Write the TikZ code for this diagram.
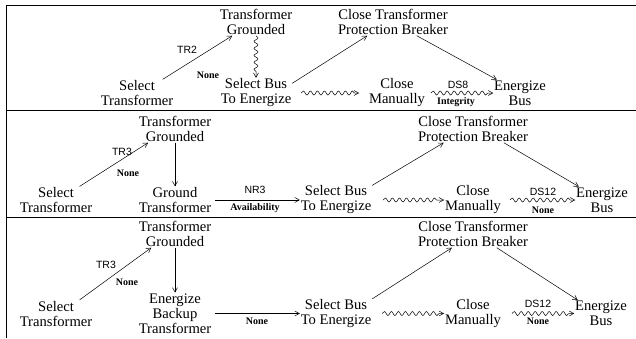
\documentclass[tikz,border=0pt]{standalone}
\usepackage{fontspec}
\setmainfont{Liberation Serif}
\newfontfamily\lblsans{Liberation Sans}
\usetikzlibrary{arrows.meta,decorations.pathmorphing}

\begin{document}
\begin{tikzpicture}[x=1pt, y=-1pt,
  state/.style={align=center, inner sep=0pt, outer sep=1pt, font=\fontsize{14.6}{15}\selectfont},
  tag/.style={inner sep=0pt, font=\lblsans\fontsize{10.5}{12}\selectfont},
  cat/.style={inner sep=0pt, font=\bfseries\fontsize{10}{12}\selectfont},
  trans/.style={-{Straight Barb[length=4.5pt,width=5pt]}, line width=0.5pt},
  wavy/.style={trans, decorate, decoration={snake, amplitude=2pt, segment length=7pt, post length=4pt}}]
\useasboundingbox (0,0) rectangle (636,338);
\draw[line width=1pt] (636,5) -- (6.5,5) -- (6.5,338);
\draw[line width=0.8pt] (6.5,110.5) -- (636,110.5);
\draw[line width=0.8pt] (6.5,217.5) -- (636,217.5);

\node[state] (selT1) at (137,93) {Select\\Transformer};
\node[state] (grd1) at (256,22) {Transformer\\Grounded};
\node[state] (selB1) at (256,93) {Select Bus\\To Energize};
\node[state] (ctpb1) at (393,22) {Close Transformer\\Protection Breaker};
\node[state] (man1) at (397,93) {Close\\Manually};
\node[state] (enb1) at (520,93) {Energize\\Bus};
\node[tag] (tr2) at (187,50) {TR2};
\node[cat] (none1) at (208,75) {None};
\node[tag] (ds8) at (458,85) {DS8};
\node[cat] (integ1) at (456,102) {Integrity};
\draw[trans] (selT1.28) -- (grd1.210);
\draw[wavy] (grd1.south) -- (selB1.north);
\draw[trans] (selB1.15) -- (ctpb1.208);
\draw[trans] (ctpb1.330) -- (enb1.150);
\draw[wavy] ([xshift=9pt]selB1.east) -- ([xshift=-9pt]man1.west);
\draw[wavy] ([xshift=5pt]man1.east) -- (enb1.west);

\node[state] (selT2) at (56,200) {Select\\Transformer};
\node[state] (grd2) at (175,129) {Transformer\\Grounded};
\node[state] (gnd2) at (175,200) {Ground\\Transformer};
\node[state] (selB2) at (336,200) {Select Bus\\To Energize};
\node[state] (ctpb2) at (473,129) {Close Transformer\\Protection Breaker};
\node[state] (man2) at (473,200) {Close\\Manually};
\node[state] (enb2) at (602,200) {Energize\\Bus};
\node[tag] (tr3a) at (122,152) {TR3};
\node[cat] (none2) at (128,173) {None};
\node[tag] (nr3) at (255,190) {NR3};
\node[cat] (avail2) at (255,208) {Availability};
\node[tag] (ds12a) at (543,192) {DS12};
\node[cat] (none3) at (543,210) {None};
\draw[trans] (selT2.30) -- (grd2.207);
\draw[trans] (grd2.south) -- (gnd2.north);
\draw[trans] ([xshift=3pt]gnd2.east) -- (selB2.west);
\draw[trans] (selB2.22) -- (ctpb2.205);
\draw[trans] (ctpb2.336) -- (enb2.150);
\draw[wavy] ([xshift=11pt]selB2.east) -- (man2.west);
\draw[wavy] ([xshift=8pt]man2.east) -- (enb2.west);

\node[state] (selT3) at (56,313.5) {Select\\Transformer};
\node[state] (grd3) at (175,234) {Transformer\\Grounded};
\node[state] (ebk3) at (175,313.5) {Energize\\Backup\\Transformer};
\node[state] (selB3) at (336,313.5) {Select Bus\\To Energize};
\node[state] (ctpb3) at (473,234) {Close Transformer\\Protection Breaker};
\node[state] (man3) at (473,313.5) {Close\\Manually};
\node[state] (enb3) at (601,313.5) {Energize\\Bus};
\node[tag] (tr3b) at (106,265) {TR3};
\node[cat] (none4) at (127,282) {None};
\node[cat] (none5) at (257,321) {None};
\node[tag] (ds12b) at (538,304) {DS12};
\node[cat] (none6) at (538,321) {None};
\draw[trans] (selT3.30) -- (grd3.210);
\draw[trans] (grd3.south) -- (ebk3.north);
\draw[trans] ([xshift=3pt]ebk3.east) -- (selB3.west);
\draw[trans] (selB3.22) -- (ctpb3.213);
\draw[trans] (ctpb3.330) -- (enb3.150);
\draw[wavy] ([xshift=10pt]selB3.east) -- (man3.west);
\draw[wavy] ([xshift=10pt]man3.east) -- (enb3.west);
\end{tikzpicture}
\end{document}
